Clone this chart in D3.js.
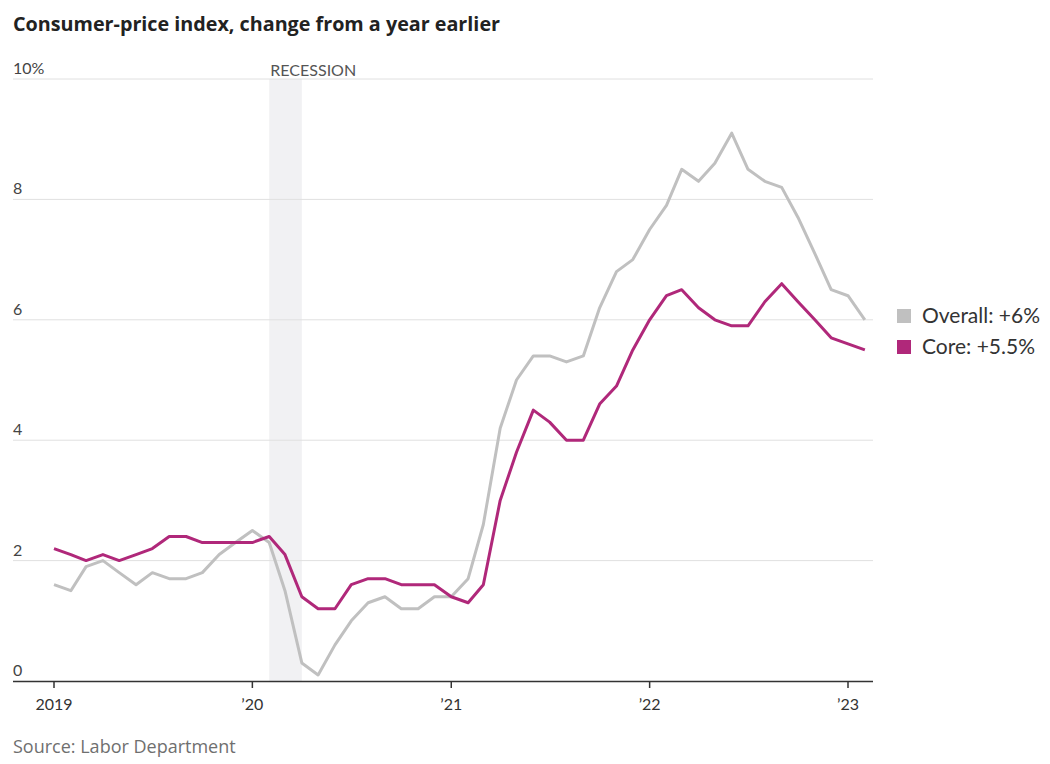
<!DOCTYPE html>
<html>
<head>
<meta charset="utf-8">
<script src="https://cdn.jsdelivr.net/npm/d3@7"></script>
<style>
  html, body { margin: 0; padding: 0; background: #fff; }
  svg { display: block; font-family: "Lato", "Open Sans", sans-serif; }
</style>
</head>
<body>
<svg id="chart" width="1050" height="764"></svg>
<script>
// Monthly, Jan 2019 .. Feb 2023
const startYear = 2019;
const overall = [
  1.6, 1.5, 1.9, 2.0, 1.8, 1.6, 1.8, 1.7, 1.7, 1.8, 2.1, 2.3,
  2.5, 2.3, 1.5, 0.3, 0.1, 0.6, 1.0, 1.3, 1.4, 1.2, 1.2, 1.4,
  1.4, 1.7, 2.6, 4.2, 5.0, 5.4, 5.4, 5.3, 5.4, 6.2, 6.8, 7.0,
  7.5, 7.9, 8.5, 8.3, 8.6, 9.1, 8.5, 8.3, 8.2, 7.7, 7.1, 6.5,
  6.4, 6.0
];
const core = [
  2.2, 2.1, 2.0, 2.1, 2.0, 2.1, 2.2, 2.4, 2.4, 2.3, 2.3, 2.3,
  2.3, 2.4, 2.1, 1.4, 1.2, 1.2, 1.6, 1.7, 1.7, 1.6, 1.6, 1.6,
  1.4, 1.3, 1.6, 3.0, 3.8, 4.5, 4.3, 4.0, 4.0, 4.6, 4.9, 5.5,
  6.0, 6.4, 6.5, 6.2, 6.0, 5.9, 5.9, 6.3, 6.6, 6.3, 6.0, 5.7,
  5.6, 5.5
];
const yTicks = [0, 2, 4, 6, 8, 10];
const xTickYears = [2019, 2020, 2021, 2022, 2023];
const xTickLabels = ["2019", "\u201920", "\u201921", "\u201922", "\u201923"];
const recession = [new Date(2020, 1, 1), new Date(2020, 3, 1)];
const legendItems = [
  { label: "Overall: +6%", color: "#c0c0c0" },
  { label: "Core: +5.5%", color: "#b0287a" }
];

const dates = overall.map((_, i) => new Date(startYear, i, 1));

const svg = d3.select("#chart");
const x = d3.scaleTime()
  .domain([new Date(2019, 0, 1), new Date(2023, 0, 1)])
  .range([54, 848]);
const y = d3.scaleLinear().domain([0, 10]).range([681, 79]);
const gridLeft = 13, gridRight = 873;

// title
svg.append("text").attr("x", 13).attr("y", 31)
  .attr("font-size", 19).attr("font-weight", 700).attr("fill", "#222")
  .style("font-family", "'Open Sans', sans-serif")
  .attr("textLength", 487).attr("lengthAdjust", "spacingAndGlyphs")
  .text("Consumer-price index, change from a year earlier");

// recession shading
svg.append("rect")
  .attr("x", x(recession[0])).attr("y", y(10))
  .attr("width", x(recession[1]) - x(recession[0]))
  .attr("height", y(0) - y(10))
  .attr("fill", "#f1f1f3");
svg.append("text").attr("x", x(recession[0]) + 1).attr("y", 76)
  .attr("font-size", 16).attr("fill", "#555")
  .attr("textLength", 86).attr("lengthAdjust", "spacingAndGlyphs")
  .text("RECESSION");

// gridlines
yTicks.filter(t => t > 0).forEach(t => {
  svg.append("line").attr("x1", gridLeft).attr("x2", gridRight)
    .attr("y1", y(t)).attr("y2", y(t))
    .attr("stroke", "#e0e0e0").attr("stroke-width", 1);
});
// y labels
yTicks.forEach(t => {
  svg.append("text").attr("x", 13).attr("y", y(t) - 5)
    .attr("font-size", 16).attr("fill", "#444")
    .text(t === 10 ? "10%" : String(t));
});

// lines
const line = d3.line().x((d, i) => x(dates[i])).y(d => y(d));
svg.append("path").datum(overall).attr("d", line)
  .attr("fill", "none").attr("stroke", "#c0c0c0").attr("stroke-width", 3)
  .attr("stroke-linejoin", "round");
svg.append("path").datum(core).attr("d", line)
  .attr("fill", "none").attr("stroke", "#b0287a").attr("stroke-width", 3)
  .attr("stroke-linejoin", "round");

// x axis
svg.append("line").attr("x1", gridLeft).attr("x2", gridRight)
  .attr("y1", y(0) + 0.5).attr("y2", y(0) + 0.5)
  .attr("stroke", "#333").attr("stroke-width", 1.5);
xTickYears.forEach((yr, i) => {
  const xx = x(new Date(yr, 0, 1));
  svg.append("line").attr("x1", xx).attr("x2", xx)
    .attr("y1", y(0)).attr("y2", y(0) + 7)
    .attr("stroke", "#333").attr("stroke-width", 1.5);
  svg.append("text").attr("x", xx).attr("y", 710)
    .attr("text-anchor", "middle").attr("font-size", 16).attr("fill", "#333")
    .text(xTickLabels[i]);
});

// legend
legendItems.forEach((d, i) => {
  const ly = 316 + i * 31;
  svg.append("rect").attr("x", 897).attr("y", ly - 7).attr("width", 14).attr("height", 14)
    .attr("fill", d.color);
  svg.append("text").attr("x", 922).attr("y", ly + 7)
    .attr("font-size", 21).attr("fill", "#333")
    .text(d.label);
});

// source
svg.append("text").attr("x", 13).attr("y", 753)
  .attr("font-size", 18).attr("fill", "#6f6f6f")
  .style("font-family", "'Open Sans', sans-serif")
  .text("Source: Labor Department");
</script>
</body>
</html>
